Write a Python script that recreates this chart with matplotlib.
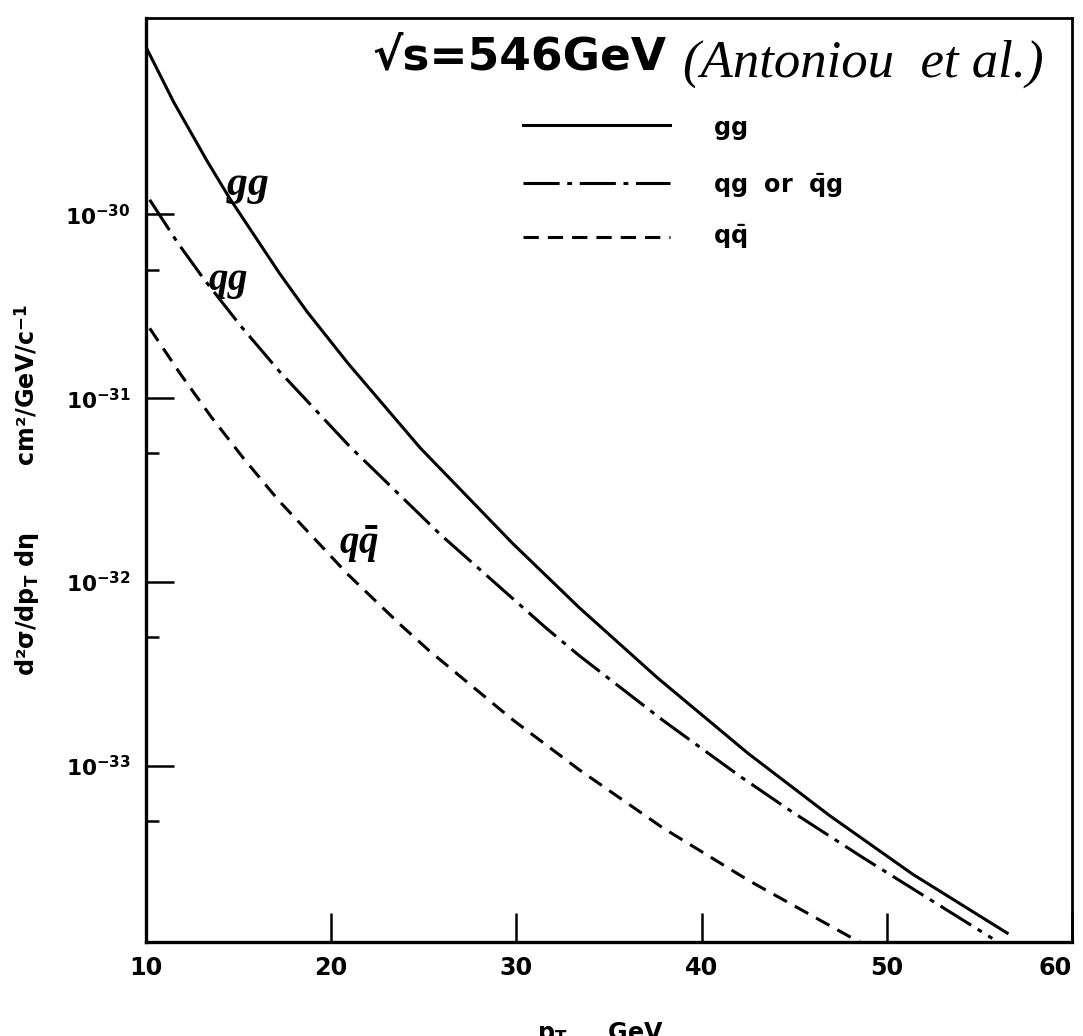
import matplotlib
matplotlib.use('Agg')
import matplotlib.pyplot as plt
from matplotlib import font_manager
from matplotlib.ticker import NullFormatter, NullLocator

# the scan uses a tall condensed lettering, take a narrow face if there is one
installed = {f.name for f in font_manager.fontManager.ttflist}
narrow = 'Liberation Sans Narrow' if 'Liberation Sans Narrow' in installed else 'DejaVu Sans'
shrink = 1.0 if narrow == 'Liberation Sans Narrow' else 0.78
script_face = 'Liberation Serif' if 'Liberation Serif' in installed else 'DejaVu Serif'

plt.rcParams['font.family'] = [narrow, 'DejaVu Sans']
plt.rcParams['font.weight'] = 'bold'
plt.rcParams['mathtext.fontset'] = 'custom'
plt.rcParams['mathtext.rm'] = narrow + ':bold'
plt.rcParams['mathtext.bf'] = narrow + ':bold'
plt.rcParams['mathtext.it'] = script_face + ':italic'
plt.rcParams['lines.scale_dashes'] = False

# d2sigma/dpT deta (cm^2/GeV/c^-1), sqrt(s) = 546 GeV
pt_gg = [10.0, 11.5, 13.3, 14.5, 17.2, 18.7, 20.9, 24.8, 29.8, 33.4, 37.6, 42.5, 46.9, 51.4, 56.5]
xs_gg = [8.13e-30, 4.07e-30, 1.95e-30, 1.23e-30, 4.79e-31, 2.95e-31, 1.55e-31, 5.37e-32,
         1.62e-32, 7.24e-33, 3.02e-33, 1.17e-33, 5.37e-34, 2.57e-34, 1.23e-34]

pt_qg = [10.2, 11.7, 13.1, 15.1, 17.2, 21.0, 25.9, 31.6, 33.4, 37.9, 42.1, 44.8, 48.7, 55.7]
xs_qg = [1.20e-30, 7.03e-31, 4.48e-31, 2.48e-31, 1.40e-31, 5.46e-32, 1.81e-32, 5.62e-33,
         3.97e-33, 1.77e-33, 8.73e-34, 5.69e-34, 3.17e-34, 1.15e-34]

pt_qq = [10.2, 11.8, 13.5, 15.3, 17.2, 20.9, 23.7, 25.3, 29.8, 33.4, 37.9, 42.5, 48.8]
xs_qq = [2.40e-31, 1.38e-31, 7.96e-32, 4.66e-32, 2.75e-32, 1.10e-32, 5.90e-33, 4.22e-33,
         1.78e-33, 9.5e-34, 4.6e-34, 2.39e-34, 1.06e-34]

x_ticks = [10, 20, 30, 40, 50, 60]
y_major = [1e-30, 1e-31, 1e-32, 1e-33]
y_minor = [5e-31, 5e-32, 5e-33, 5e-34]

legend_labels = [r'$\mathbf{gg}$', r'$\mathbf{qg}$  or  $\mathbf{\bar{q}g}$', r'$\mathbf{q\bar{q}}$']
curve_labels = [r'$gg$', r'$qg$', r'$q\bar{q}$']

solid = '-'
dashdot = (0, (26, 5.5, 3.5, 5.5))
dashed = (0, (11, 6.5))
lw = 2.2

fig = plt.figure(figsize=(10.83, 10.36), dpi=100)
ax = fig.add_axes([146 / 1083, 1 - 942 / 1036, 926 / 1083, 924 / 1036])

ax.plot(pt_gg, xs_gg, color='black', lw=lw, linestyle=solid)
ax.plot(pt_qg, xs_qg, color='black', lw=lw, linestyle=dashdot)
ax.plot(pt_qq, xs_qq, color='black', lw=lw, linestyle=dashed)

ax.set_yscale('log')
ax.set_xlim(10, 60)
ax.set_ylim(1.1e-34, 1.17e-29)
ax.set_xticks(x_ticks)
ax.set_yticks(y_major)
ax.set_yticks(y_minor, minor=True)
ax.yaxis.set_minor_formatter(NullFormatter())
ax.xaxis.set_minor_locator(NullLocator())

ax.tick_params(axis='both', which='both', direction='in', top=False, right=False, color='black')
ax.tick_params(axis='y', which='major', length=20, width=1.8, pad=11, labelsize=20 * shrink)
ax.tick_params(axis='y', which='minor', length=9, width=1.8)
ax.tick_params(axis='x', which='major', length=21, width=1.8, pad=10, labelsize=22 * shrink)
# the last label sits just inside the page edge in the scan
ax.get_xticklabels()[-1].set_horizontalalignment('right')

for side in ['left', 'bottom']:
    ax.spines[side].set_linewidth(2.4)
for side in ['top', 'right']:
    ax.spines[side].set_linewidth(2.0)

# handwritten labels next to the curves
ax.text(15.5, 1.45e-30, curve_labels[0], fontsize=30, ha='center', va='center')
ax.text(14.4, 4.3e-31, curve_labels[1], fontsize=28, ha='center', va='center')
ax.text(21.5, 1.6e-32, curve_labels[2], fontsize=28, ha='center', va='center')

# key drawn by hand in the upper right, like the original
key_y = [0.884, 0.821, 0.763]
key_text_y = [0.873, 0.811, 0.755]
for style, ly, ty, lab in zip([solid, dashdot, dashed], key_y, key_text_y, legend_labels):
    ax.plot([0.407, 0.566], [ly, ly], transform=ax.transAxes, color='black', lw=lw, linestyle=style)
    ax.text(0.612, ty, lab, transform=ax.transAxes, fontsize=22 * shrink, va='baseline', ha='left')

ax.text(0.244, 0.958, '√s=546GeV', transform=ax.transAxes, fontsize=42 * shrink,
        fontweight='heavy', va='center', ha='left')
ax.text(0.580, 0.950, '(Antoniou  et al.)', transform=ax.transAxes, fontsize=38,
        family=script_face, fontstyle='italic', fontweight='normal', va='center', ha='left')

fig.text(28 / 1083, 1 - 490 / 1036,
         'd²σ/dp$_\\mathdefault{T}$ dη        cm²/GeV/c$^{\\mathdefault{-1}}$',
         rotation=90, ha='center', va='center', fontsize=22 * shrink)
fig.text(600 / 1083, 1 - 1020 / 1036, 'p$_\\mathdefault{T}$     GeV',
         ha='center', va='top', fontsize=22 * shrink)

fig.savefig('out.png', dpi=100)
